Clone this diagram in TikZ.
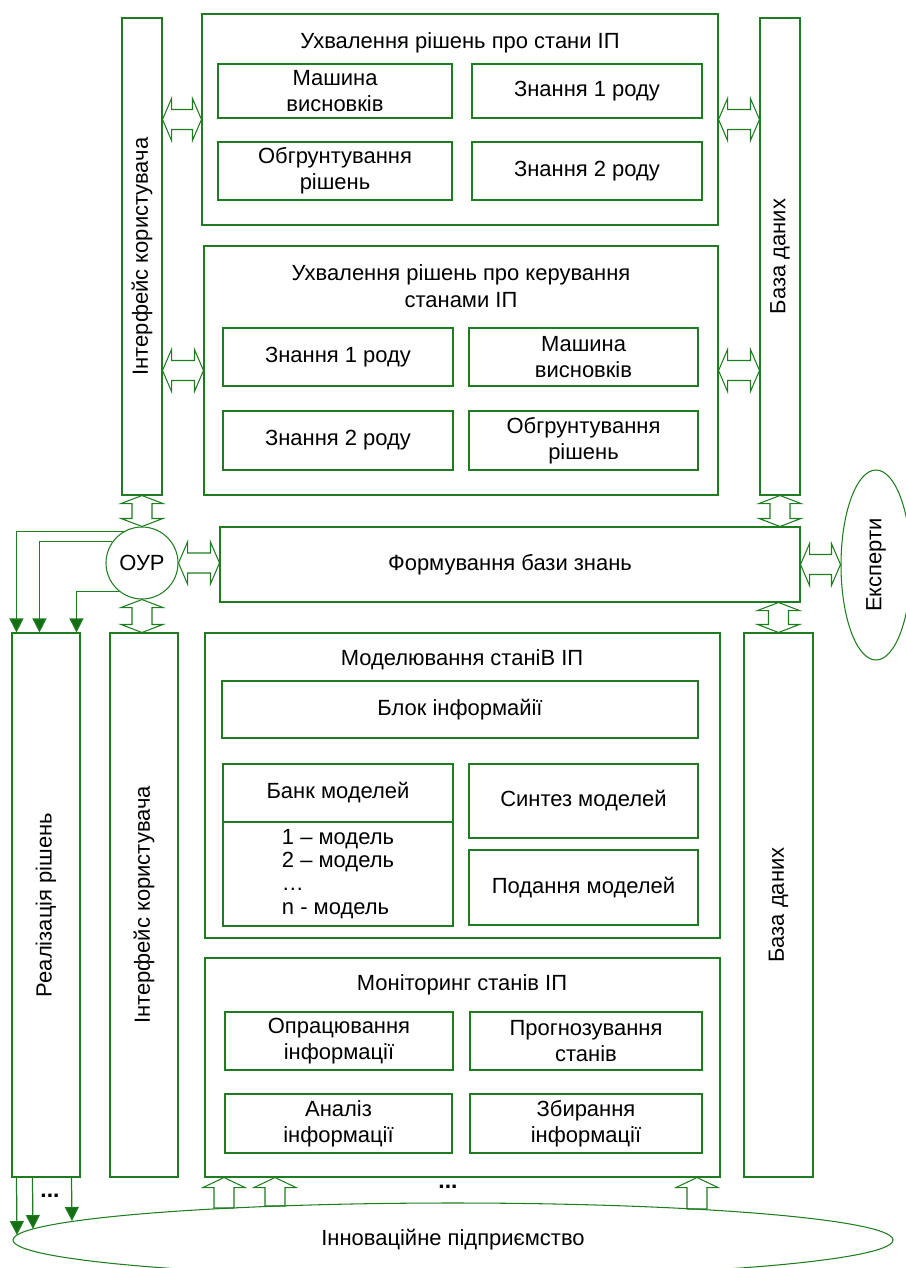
\documentclass[tikz,border=0pt]{standalone}
\usepackage{fontspec}
\setmainfont{Liberation Sans}
\usetikzlibrary{calc,fit,arrows.meta,shapes.geometric}

\definecolor{schgreen}{RGB}{30,125,30}
\definecolor{tipgreen}{RGB}{20,110,20}
\newlength{\pxu}
\setlength{\pxu}{0.02cm}

% hollow block arrows between blocks
\newcommand{\harr}[2]{%
  \draw[blockarr] (#1) -- ($(#1)+(9,-21)$) -- ($(#1)+(9,-10)$)
    -- ($(#2)+(-9,-10)$) -- ($(#2)+(-9,-21)$) -- (#2)
    -- ($(#2)+(-9,21)$) -- ($(#2)+(-9,10)$)
    -- ($(#1)+(9,10)$) -- ($(#1)+(9,21)$) -- cycle;}
\newcommand{\varr}[2]{%
  \draw[blockarr] (#1) -- ($(#1)+(21,8)$) -- ($(#1)+(10,8)$)
    -- ($(#2)+(10,-8)$) -- ($(#2)+(21,-8)$) -- (#2)
    -- ($(#2)+(-21,-8)$) -- ($(#2)+(-10,-8)$)
    -- ($(#1)+(-10,8)$) -- ($(#1)+(-21,8)$) -- cycle;}
\newcommand{\uarr}[2]{%
  \draw[blockarr] (#2) -- ($(#2)+(21,10)$) -- ($(#2)+(10,10)$)
    -- ($(#1)+(10,0)$) -- ($(#1)+(-10,0)$) -- ($(#2)+(-10,10)$)
    -- ($(#2)+(-21,10)$) -- cycle;}

\begin{document}
\begin{tikzpicture}
[x=0.02cm,y=-0.02cm,%
  every node/.style={font=\fontsize{12.5}{15}\selectfont},%
  blk/.style={draw=schgreen,line width=0.6pt,inner sep=0pt,align=center},%
  cell/.style={blk,minimum width=#1\pxu},%
  blockarr/.style={draw=schgreen,line width=0.6pt,line join=miter},%
  flow/.style={draw=schgreen,line width=0.7pt,-{Triangle[width=0.28cm,length=0.28cm,fill=tipgreen]}}]
\useasboundingbox (0,0) rectangle (906,1268);

% upper part
\node[blk,fit={(122,18) (162,495)}] (iface1) {};
\node[rotate=90] (iface1txt) at (iface1.center) {Інтерфейс користувача};
\node[blk,fit={(760,18) (800,495)}] (db1) {};
\node[rotate=90] (db1txt) at (db1.center) {База даних};

\node[blk,fit={(202,14) (718,225)}] (dec1) {};
\node (dec1txt) at (460,43) {Ухвалення рішень про стани ІП};
\node[cell=234,minimum height=54\pxu] (d1a) at (335,91) {Машина\\висновків};
\node[cell=230,minimum height=54\pxu] (d1b) at (587,91) {Знання 1 роду};
\node[cell=234,minimum height=58\pxu] (d1c) at (335,171) {Обгрунтування\\рішень};
\node[cell=230,minimum height=58\pxu] (d1d) at (587,171) {Знання 2 роду};

\node[blk,fit={(204,246) (718,495)}] (dec2) {};
\node[align=center] (dec2txt) at (461,286) {Ухвалення рішень про керування\\станами ІП};
\node[cell=230,minimum height=58\pxu] (d2a) at (338,357) {Знання 1 роду};
\node[cell=229,minimum height=58\pxu] (d2b) at (583.5,357) {Машина\\висновків};
\node[cell=230,minimum height=59\pxu] (d2c) at (338,440.5) {Знання 2 роду};
\node[cell=229,minimum height=59\pxu] (d2d) at (583.5,440.5) {Обгрунтування\\рішень};

% middle row
\node[blk,circle,minimum size=72\pxu] (oup) at (142,563) {ОУР};
\node[cell=580,minimum height=75\pxu] (kb) at (510,564.5) {Формування бази знань};
\node[blk,ellipse,minimum width=70\pxu,minimum height=190\pxu] (exp) at (876,565) {};
\node[rotate=90] (exptxt) at (exp.center) {Експерти};

% lower part
\node[blk,fit={(12,633) (80,1177)}] (real) {};
\node[rotate=90] (realtxt) at (real.center) {Реалізація рішень};
\node[blk,fit={(110,633) (178,1177)}] (iface2) {};
\node[rotate=90] (iface2txt) at (iface2.center) {Інтерфейс користувача};
\node[blk,fit={(744,633) (813,1177)}] (db2) {};
\node[rotate=90] (db2txt) at (db2.center) {База даних};

\node[blk,fit={(205,633) (720,938)}] (model) {};
\node (modeltxt) at (462,660) {Моделювання станіВ ІП};
\node[cell=476,minimum height=57\pxu] (m1) at (460,709.5) {Блок інформайії};
\node[cell=230,minimum height=58\pxu] (bank) at (338,793) {Банк моделей};
\node[cell=230,minimum height=104\pxu] (banklist) at (338,874) {};
\node[align=left,font=\fontsize{12.5}{13.2}\selectfont] (banktxt) at (banklist.center)
  {1 – модель\\2 – модель\\…\\n - модель};
\node[cell=229,minimum height=74\pxu] (m3) at (583.5,801) {Синтез моделей};
\node[cell=229,minimum height=75\pxu] (m4) at (583.5,887.5) {Подання моделей};

\node[blk,fit={(205,958) (720,1177)}] (mon) {};
\node (montxt) at (462,985) {Моніторинг станів ІП};
\node[cell=228,minimum height=58\pxu] (n1) at (339,1041) {Опрацювання\\інформації};
\node[cell=232,minimum height=58\pxu] (n2) at (586,1041) {Прогнозування\\станів};
\node[cell=227,minimum height=59\pxu] (n3) at (338.5,1123.5) {Аналіз\\інформації};
\node[cell=232,minimum height=59\pxu] (n4) at (586,1123.5) {Збирання\\інформації};

\node[blk,ellipse,minimum width=880\pxu,minimum height=74\pxu] (ent) at (453,1240) {Інноваційне підприємство};

% block arrows
\coordinate (h1) at (iface1.east |- dec1.west);
\coordinate (h2) at (db1.west |- dec1.east);
\coordinate (h3) at (iface1.east |- dec2.west);
\coordinate (h4) at (db1.west |- dec2.east);
\coordinate (h5) at (kb.west |- oup.east);
\coordinate (h6) at (exp.west |- kb.east);
\harr{h1}{dec1.west}
\harr{dec1.east}{h2}
\harr{h3}{dec2.west}
\harr{dec2.east}{h4}
\harr{oup.east}{h5}
\harr{kb.east}{h6}

\coordinate (v1) at (oup.south |- iface2.north);
\coordinate (v2) at (db1.south |- kb.north);
\coordinate (v3) at (db2.north |- kb.south);
\varr{iface1.south}{oup.north}
\varr{oup.south}{v1}
\varr{db1.south}{v2}
\varr{v3}{db2.north}

\coordinate (u1) at (224,1208);
\coordinate (u2) at (275,1206);
\coordinate (u3) at (697,1209);
\uarr{u1}{u1 |- mon.south}
\uarr{u2}{u2 |- mon.south}
\uarr{u3}{u3 |- mon.south}

% control flows
\draw[flow] (oup.120) -| ($(real.north west)+(5,0)$);
\draw[flow] (oup.144) -| ($(real.north west)+(28,0)$);
\draw[flow] (oup.231) -| ($(real.north west)+(65,0)$);

\coordinate (e1) at (17,1235);
\coordinate (e2) at (33,1229);
\coordinate (e3) at (72,1221);
\draw[flow] ($(real.south west)+(5,0)$) -- (e1);
\draw[flow] ($(real.south west)+(21,0)$) -- (e2);
\draw[flow] ($(real.south west)+(60,0)$) -- (e3);

\node[font=\fontsize{13}{15}\bfseries] (dots1) at (50,1196) {...};
\node[font=\fontsize{13}{15}\bfseries] (dots2) at (448,1187) {...};
\end{tikzpicture}
\end{document}
